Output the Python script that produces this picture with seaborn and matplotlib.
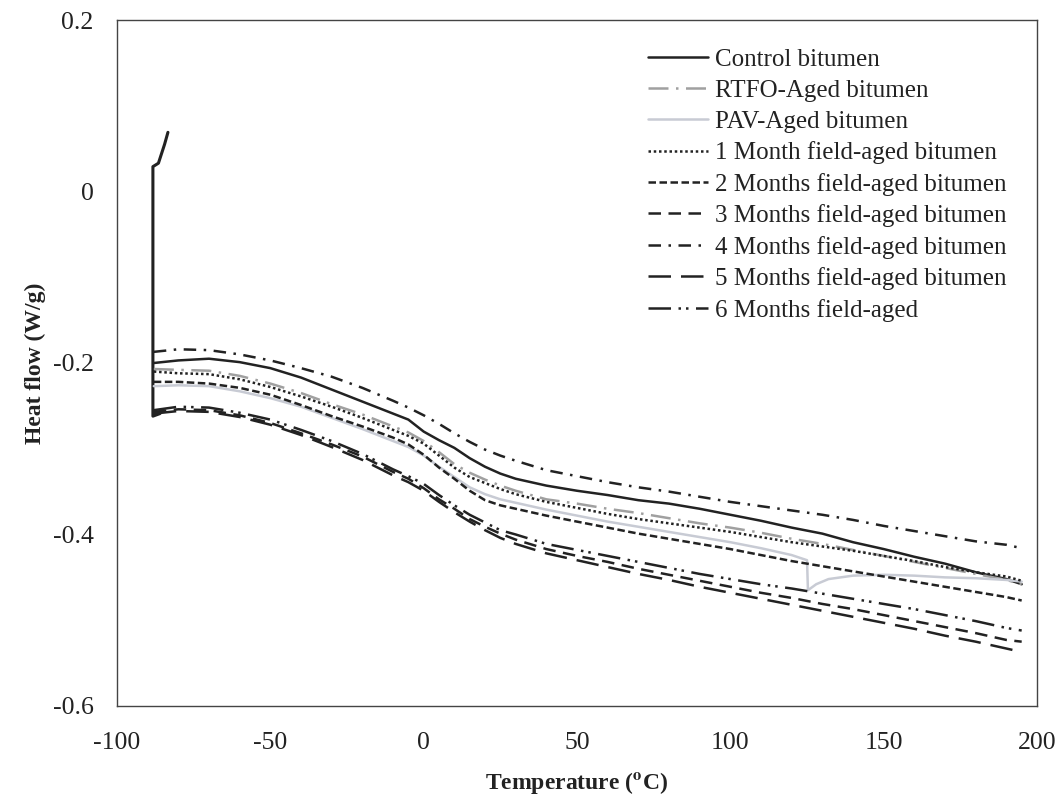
import numpy as np
import pandas as pd
import matplotlib
matplotlib.use("Agg")
import matplotlib.pyplot as plt
import seaborn as sns

# temperature grid (deg C) shared by most curves
temp = [-88, -80, -70, -60, -50, -40, -30, -20, -10, -5, 0, 5, 10, 15, 20, 25, 30, 40, 50,
        60, 70, 80, 90, 100, 110, 120, 130, 140, 150, 160, 170, 180, 190, 195]

control = [-0.200, -0.197, -0.195, -0.199, -0.206, -0.217, -0.231, -0.245, -0.259, -0.266,
           -0.280, -0.290, -0.299, -0.311, -0.321, -0.329, -0.335, -0.343, -0.349, -0.354,
           -0.360, -0.364, -0.370, -0.377, -0.384, -0.392, -0.399, -0.409, -0.417, -0.426,
           -0.434, -0.444, -0.452, -0.458]
rtfo = [-0.207, -0.208, -0.209, -0.215, -0.224, -0.235, -0.248, -0.260, -0.274, -0.281,
        -0.291, -0.304, -0.318, -0.328, -0.336, -0.343, -0.349, -0.359, -0.364, -0.370,
        -0.375, -0.381, -0.387, -0.392, -0.398, -0.405, -0.411, -0.418, -0.425, -0.432,
        -0.439, -0.446, -0.453, -0.458]
month1 = [-0.210, -0.212, -0.213, -0.219, -0.228, -0.239, -0.251, -0.264, -0.278, -0.285,
          -0.294, -0.308, -0.322, -0.333, -0.340, -0.347, -0.353, -0.362, -0.369, -0.376,
          -0.382, -0.387, -0.392, -0.397, -0.403, -0.409, -0.414, -0.419, -0.425, -0.431,
          -0.438, -0.444, -0.449, -0.454]
month2 = [-0.222, -0.222, -0.224, -0.229, -0.237, -0.249, -0.262, -0.274, -0.287, -0.295,
          -0.307, -0.322, -0.335, -0.349, -0.360, -0.366, -0.370, -0.378, -0.385, -0.392,
          -0.399, -0.405, -0.411, -0.417, -0.424, -0.431, -0.437, -0.443, -0.449, -0.455,
          -0.461, -0.467, -0.473, -0.477]
month3 = [-0.257, -0.254, -0.255, -0.261, -0.270, -0.282, -0.295, -0.309, -0.327, -0.335,
          -0.346, -0.359, -0.370, -0.382, -0.391, -0.399, -0.406, -0.417, -0.425, -0.432,
          -0.440, -0.447, -0.454, -0.461, -0.468, -0.474, -0.481, -0.487, -0.494, -0.501,
          -0.508, -0.515, -0.523, -0.525]
month4 = [-0.187, -0.184, -0.185, -0.190, -0.197, -0.206, -0.216, -0.229, -0.244, -0.252,
          -0.261, -0.271, -0.282, -0.292, -0.301, -0.308, -0.314, -0.325, -0.332, -0.339,
          -0.345, -0.350, -0.356, -0.362, -0.367, -0.372, -0.377, -0.383, -0.390, -0.396,
          -0.402, -0.408, -0.412, -0.416]
month5 = [-0.259, -0.256, -0.257, -0.263, -0.272, -0.284, -0.298, -0.313, -0.331, -0.339,
          -0.349, -0.362, -0.374, -0.385, -0.395, -0.404, -0.411, -0.422, -0.430, -0.438,
          -0.446, -0.453, -0.461, -0.468, -0.475, -0.482, -0.489, -0.496, -0.503, -0.510,
          -0.518, -0.525, -0.533, -0.537]
month6 = [-0.255, -0.251, -0.252, -0.258, -0.266, -0.278, -0.291, -0.306, -0.324, -0.332,
          -0.341, -0.354, -0.366, -0.377, -0.386, -0.395, -0.400, -0.411, -0.418, -0.425,
          -0.432, -0.439, -0.446, -0.452, -0.458, -0.463, -0.469, -0.475, -0.481, -0.487,
          -0.494, -0.501, -0.509, -0.512]

# PAV curve has a small step near 125 C
pav_temp = [-88, -80, -70, -60, -50, -40, -30, -20, -10, -5, 0, 5, 10, 15, 20, 25, 30, 40, 50,
            60, 70, 80, 90, 100, 110, 120, 125, 125.3, 128, 132, 140, 150, 160, 170, 180, 190, 195]
pav = [-0.227, -0.226, -0.227, -0.233, -0.241, -0.251, -0.264, -0.277, -0.291, -0.298,
       -0.308, -0.321, -0.333, -0.345, -0.353, -0.359, -0.363, -0.371, -0.378, -0.385,
       -0.391, -0.397, -0.403, -0.409, -0.416, -0.424, -0.430, -0.465, -0.458, -0.452,
       -0.448, -0.447, -0.448, -0.450, -0.451, -0.453, -0.455]

# start-up transient at the beginning of the scans
spike_t = [-83.4, -84.5, -86.5, -88.3, -88.3, -86.0]
spike_hf = [0.069, 0.055, 0.033, 0.029, -0.262, -0.259]

labels = ["Control bitumen", "RTFO-Aged bitumen", "PAV-Aged bitumen",
          "1 Month field-aged bitumen", "2 Months field-aged bitumen",
          "3 Months field-aged bitumen", "4 Months field-aged bitumen",
          "5 Months field-aged bitumen", "6 Months field-aged"]

sns.set_style("white")
plt.rcParams["font.family"] = ["Liberation Serif", "DejaVu Serif"]
plt.rcParams["mathtext.fontset"] = "stix"

dark = "#222222"
series = [
    (temp, control, dark, "-"),
    (temp, rtfo, "#a0a0a0", (0, (8, 3, 1, 3))),
    (pav_temp, pav, "#c8cbd4", "-"),
    (temp, month1, dark, (0, (1, 1.1))),
    (temp, month2, dark, (0, (3, 1.4))),
    (temp, month3, dark, (0, (5, 3))),
    (temp, month4, dark, (0, (5, 3, 1, 3))),
    (temp, month5, dark, (0, (9, 4))),
    (temp, month6, dark, (0, (9, 3, 1, 2, 1, 3))),
]

fig = plt.figure(figsize=(10.61, 7.97), dpi=100)
ax = fig.add_axes([0.1103, 0.1142, 0.8671, 0.8607])

sns.lineplot(x=spike_t, y=spike_hf, ax=ax, color=dark, lw=2.2, sort=False, estimator=None)
for (t, hf, col, ls), lab in zip(series, labels):
    sns.lineplot(x=t, y=hf, ax=ax, color=col, lw=1.8, linestyle=ls, label=lab,
                 sort=False, estimator=None)

ax.set_xlim(-100, 200)
ax.set_ylim(-0.6, 0.2)
ax.set_xticks([-100, -50, 0, 50, 100, 150, 200])
ax.set_yticks([-0.6, -0.4, -0.2, 0, 0.2])
ax.set_yticklabels(["-0.6", "-0.4", "-0.2", "0", "0.2"])
ax.set_xticklabels(["-100", "-50", "0", "50", "100", "150", "200"])
ax.tick_params(length=0, labelsize=18.5, colors=dark)
ax.tick_params(axis="x", pad=19)
ax.tick_params(axis="y", pad=17)
for s in ax.spines.values():
    s.set_color("#444444")
    s.set_linewidth(1.0)

ax.set_xlabel(r"Temperature ($\mathbf{^o}$C)", fontsize=17, fontweight="bold", color=dark, labelpad=11)
ax.set_ylabel("Heat flow (W/g)", fontsize=17, fontweight="bold", color=dark, labelpad=5)

ax.legend(loc="upper left", bbox_to_anchor=(0.564, 0.977), frameon=False, fontsize=18,
          handlelength=2.4, handletextpad=0.28, labelspacing=0.34, borderpad=0,
          labelcolor=dark)

fig.savefig("out.png", dpi=100)
